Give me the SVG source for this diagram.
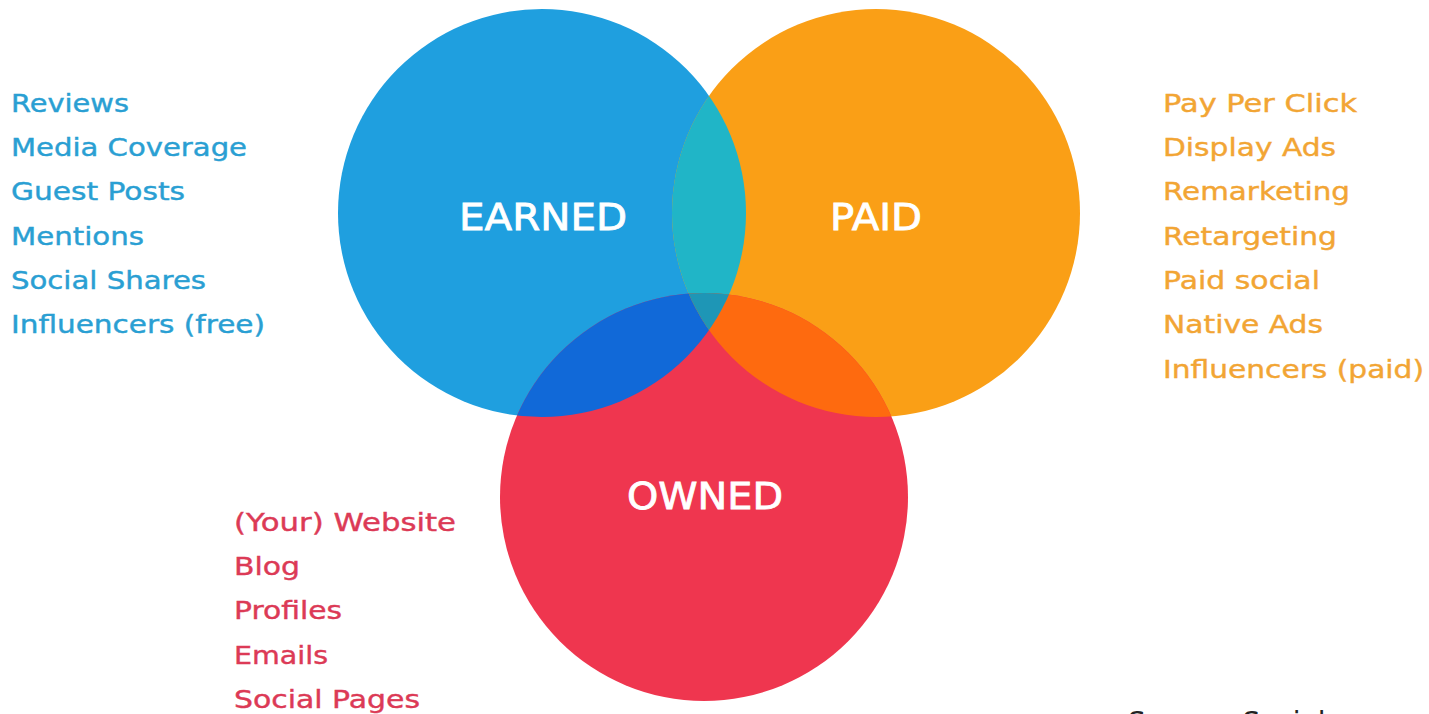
<svg xmlns="http://www.w3.org/2000/svg" width="1429" height="714" viewBox="0 0 1429 714">
  <style>
    .list { font-family: "DejaVu Sans", "Liberation Sans", sans-serif; font-size: 24px; stroke-width: 0.4px; }
    .earned-t { fill: #2A9FD3; stroke: #2A9FD3; }
    .paid-t { fill: #F2A534; stroke: #F2A534; }
    .owned-t { fill: #DC3A56; stroke: #DC3A56; }
    .label { font-family: "DejaVu Sans", "Liberation Sans", sans-serif; font-size: 37px; fill: #FFFFFF; stroke: #FFFFFF; stroke-width: 0.8px; text-anchor: middle; }
    .src { font-family: "DejaVu Sans", "Liberation Sans", sans-serif; font-size: 28px; fill: #222222; }
  </style>
  <defs>
    <clipPath id="cE"><circle cx="542" cy="213" r="204"/></clipPath>
    <clipPath id="cP"><circle cx="876" cy="213" r="204"/></clipPath>
    <clipPath id="cO"><circle cx="704" cy="497" r="204"/></clipPath>
  </defs>
  <rect x="0" y="0" width="1429" height="714" fill="#FFFFFF"/>

  <g id="earned">
    <circle cx="542" cy="213" r="204" fill="#1F9FDF"/>
  </g>
  <g id="paid">
    <circle cx="876" cy="213" r="204" fill="#FA9F16"/>
  </g>
  <g id="owned">
    <circle cx="704" cy="497" r="204" fill="#EF364F"/>
  </g>

  <g id="overlaps">
    <circle cx="876" cy="213" r="204" fill="#20B5C7" clip-path="url(#cE)"/>
    <circle cx="704" cy="497" r="204" fill="#1169D8" clip-path="url(#cE)"/>
    <circle cx="704" cy="497" r="204" fill="#FE6A0F" clip-path="url(#cP)"/>
    <g clip-path="url(#cE)">
      <circle cx="704" cy="497" r="204" fill="#1E96B6" clip-path="url(#cP)"/>
    </g>
  </g>

  <g id="labels">
    <text class="label" x="543" y="230" textLength="168" lengthAdjust="spacingAndGlyphs">EARNED</text>
    <text class="label" x="876" y="230" textLength="92" lengthAdjust="spacingAndGlyphs">PAID</text>
    <text class="label" x="705" y="509" textLength="156" lengthAdjust="spacingAndGlyphs">OWNED</text>
  </g>

  <g id="earned-list" class="list earned-t">
    <text x="11" y="112" textLength="118" lengthAdjust="spacingAndGlyphs">Reviews</text>
    <text x="11" y="156" textLength="236" lengthAdjust="spacingAndGlyphs">Media Coverage</text>
    <text x="11" y="200" textLength="174" lengthAdjust="spacingAndGlyphs">Guest Posts</text>
    <text x="11" y="245" textLength="133" lengthAdjust="spacingAndGlyphs">Mentions</text>
    <text x="11" y="289" textLength="195" lengthAdjust="spacingAndGlyphs">Social Shares</text>
    <text x="11" y="333" textLength="254" lengthAdjust="spacingAndGlyphs">Influencers (free)</text>
  </g>

  <g id="paid-list" class="list paid-t">
    <text x="1163" y="112" textLength="194" lengthAdjust="spacingAndGlyphs">Pay Per Click</text>
    <text x="1163" y="156" textLength="173" lengthAdjust="spacingAndGlyphs">Display Ads</text>
    <text x="1163" y="200" textLength="187" lengthAdjust="spacingAndGlyphs">Remarketing</text>
    <text x="1163" y="245" textLength="174" lengthAdjust="spacingAndGlyphs">Retargeting</text>
    <text x="1163" y="289" textLength="157" lengthAdjust="spacingAndGlyphs">Paid social</text>
    <text x="1163" y="333" textLength="160" lengthAdjust="spacingAndGlyphs">Native Ads</text>
    <text x="1163" y="378" textLength="261" lengthAdjust="spacingAndGlyphs">Influencers (paid)</text>
  </g>

  <g id="owned-list" class="list owned-t">
    <text x="234" y="531" textLength="222" lengthAdjust="spacingAndGlyphs">(Your) Website</text>
    <text x="234" y="575" textLength="66" lengthAdjust="spacingAndGlyphs">Blog</text>
    <text x="234" y="619" textLength="108" lengthAdjust="spacingAndGlyphs">Profiles</text>
    <text x="234" y="664" textLength="94" lengthAdjust="spacingAndGlyphs">Emails</text>
    <text x="234" y="708" textLength="186" lengthAdjust="spacingAndGlyphs">Social Pages</text>
  </g>

  <g id="source">
    <text class="src" x="1128" y="732">Source: Social</text>
  </g>
</svg>
